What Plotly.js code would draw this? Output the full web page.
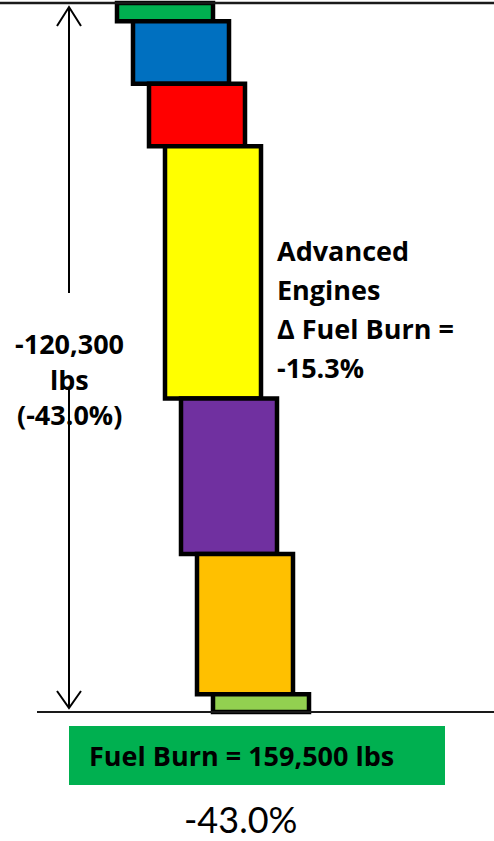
<!DOCTYPE html>
<html>
<head>
<meta charset="utf-8">
<script src="https://cdn.plot.ly/plotly-3.0.1.min.js"></script>
<style>
  html, body { margin: 0; padding: 0; background: #ffffff; }
  #chart { width: 494px; height: 841px; }
</style>
</head>
<body>
<div id="chart"></div>
<script>
// Fuel-burn reduction steps (lbs), from the baseline down to the final aircraft
const steps = ["Step 1", "Step 2", "Step 3", "Advanced Engines", "Step 5", "Step 6", "Step 7"];
const reductions = [3100, 10600, 10600, 42800, 26400, 23800, 3000];
const stepColors = ["#00B050", "#0070C0", "#FF0000", "#FFFF00", "#7030A0", "#FFC000", "#92D050"];
const baselineFuel = 279800;
const finalFuel = 159500;

// Text blocks
const engineLabel = ["Advanced", "Engines", "\u0394 Fuel Burn =", "-15.3%"];
const totalLabel = ["-120,300", "lbs", "(-43.0%)"];
const resultLabel = "Fuel Burn = 159,500 lbs";
const percentLabel = "-43.0%";

// ---- page geometry ----
const W = 494, H = 841;
const PH = 720;                       // plot area height (px), bottom margin below
const topPx = 3, botPx = 712;         // where baseline / final level sit
const pxPerLb = (botPx - topPx) / (baselineFuel - finalFuel);
const yMax = baselineFuel + topPx / pxPerLb;
const yMin = finalFuel - (PH - botPx) / pxPerLb;

// each step box is offset 16px to the right of the previous one
const firstCenterPx = 165, stepPx = 16;
const xMin = -firstCenterPx / stepPx, xMax = (W - firstCenterPx) / stepPx;

const py = p => (PH - p) / PH;        // pixel row -> paper y
const pxX = p => p / W;               // pixel column -> paper x
const dy = v => (v - yMin) / (yMax - yMin); // data y -> paper y

// waterfall bases
const xs = [], bases = [], deltas = [];
let level = baselineFuel;
reductions.forEach((r, i) => {
  xs.push(i);
  bases.push(level);
  deltas.push(-r);
  level -= r;
});

const trace = {
  type: "bar",
  x: xs,
  y: deltas,
  base: bases,
  width: 6,
  text: steps,
  hoverinfo: "text",
  textposition: "none",
  marker: { color: stepColors, line: { color: "#000000", width: 4.5 } }
};

const FAMILY = "'Open Sans', Lato, sans-serif";
const boldFont = { family: FAMILY, size: 27, color: "#000000", weight: 700 };

const annotations = [];
function addLines(lines, x, yStartPx, spacing, xanchor) {
  lines.forEach((t, i) => {
    annotations.push({
      text: "<b>" + t + "</b>",
      xref: "paper", yref: "paper",
      x: x, y: py(yStartPx + i * spacing),
      xanchor: xanchor, yanchor: "middle",
      showarrow: false,
      font: boldFont
    });
  });
}
addLines(engineLabel, pxX(275), 250, 39, "left");
addLines(totalLabel, pxX(69), 343, 36, "center");

annotations.push({
  text: "<b>" + resultLabel + "</b>",
  xref: "paper", yref: "paper",
  x: pxX(87), y: py(755), xanchor: "left", yanchor: "middle",
  showarrow: false, font: boldFont
});
annotations.push({
  text: percentLabel,
  xref: "paper", yref: "paper",
  x: pxX(240), y: py(819), xanchor: "center", yanchor: "middle",
  showarrow: false, borderpad: 0,
  font: { family: "Lato, 'Open Sans', sans-serif", size: 36, color: "#000000" }
});

const arrowX = pxX(69);
const lineStyle = { color: "#000000", width: 2 };
const shapes = [
  // baseline level
  { type: "line", xref: "paper", yref: "y", x0: 0, x1: 1, y0: baselineFuel, y1: baselineFuel,
    line: { color: "#1a1a1a", width: 2.5 } },
  // final level
  { type: "line", xref: "paper", yref: "y", x0: pxX(37), x1: 1, y0: finalFuel, y1: finalFuel,
    line: { color: "#1a1a1a", width: 2 } },
  // double arrow with a gap for the total label
  { type: "line", xref: "paper", yref: "paper", x0: arrowX, x1: arrowX,
    y0: dy(baselineFuel) - 5 / PH, y1: py(293), line: lineStyle },
  { type: "line", xref: "paper", yref: "paper", x0: arrowX, x1: arrowX,
    y0: py(390), y1: dy(finalFuel) + 5 / PH, line: lineStyle },
  { type: "path", xref: "paper", yref: "paper", xsizemode: "pixel", ysizemode: "pixel",
    xanchor: arrowX, yanchor: dy(baselineFuel),
    path: "M -12,-23 L 0,-4 L 12,-23", line: lineStyle },
  { type: "path", xref: "paper", yref: "paper", xsizemode: "pixel", ysizemode: "pixel",
    xanchor: arrowX, yanchor: dy(finalFuel),
    path: "M -12,21 L 0,4 L 12,21", line: lineStyle },
  // result box
  { type: "rect", xref: "paper", yref: "paper", x0: pxX(69), x1: pxX(445), y0: py(785), y1: py(726),
    fillcolor: "#00B050", line: { width: 0 }, layer: "below" }
];

const layout = {
  width: W, height: H,
  margin: { l: 0, r: 0, t: 0, b: H - PH, pad: 0 },
  paper_bgcolor: "#ffffff", plot_bgcolor: "#ffffff",
  showlegend: false,
  barmode: "overlay",
  xaxis: { range: [xMin, xMax], visible: false, fixedrange: true },
  yaxis: { range: [yMin, yMax], visible: false, fixedrange: true },
  shapes: shapes,
  annotations: annotations
};

Plotly.newPlot("chart", [trace], layout, { displayModeBar: false, staticPlot: true });
</script>
</body>
</html>
